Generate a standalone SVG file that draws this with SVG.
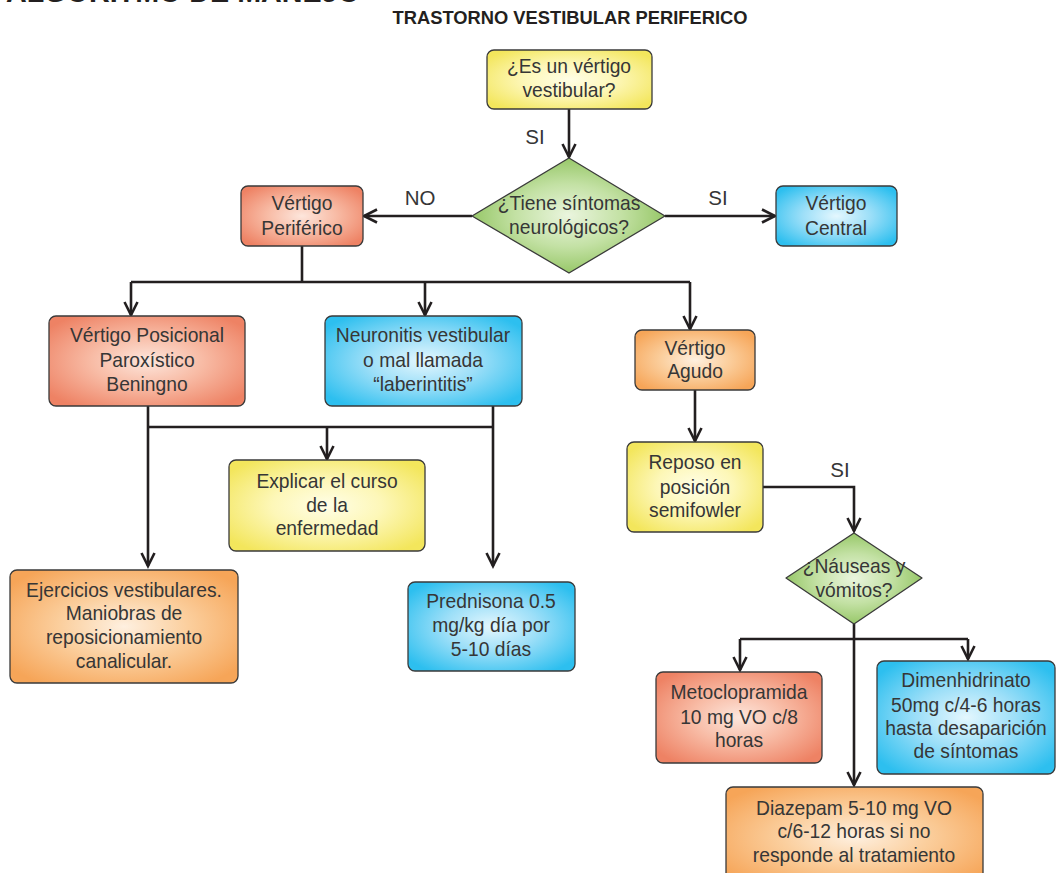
<svg xmlns="http://www.w3.org/2000/svg" width="1056" height="873" viewBox="0 0 1056 873">
  <style>
    .box { stroke: #3a3a3a; stroke-width: 1.3; }
    .t { font-family: "Liberation Sans", Arial, sans-serif; font-size: 20.5px; fill: #363636; text-anchor: middle; }
    .lbl { font-family: "Liberation Sans", Arial, sans-serif; font-size: 20.5px; fill: #363636; text-anchor: middle; }
    .c { fill: none; stroke: #231f20; stroke-width: 2.6; }
    .title { font-family: "Liberation Sans", Arial, sans-serif; font-weight: bold; fill: #231f20; }
  </style>
  <defs>
    <radialGradient id="gYellow" r="0.62">
      <stop offset="0" stop-color="#fffee6"/>
      <stop offset="0.45" stop-color="#fdf7b8"/>
      <stop offset="1" stop-color="#f3e65c"/>
    </radialGradient>
    <radialGradient id="gSalmon" r="0.62">
      <stop offset="0" stop-color="#fde6dc"/>
      <stop offset="0.45" stop-color="#f8bca6"/>
      <stop offset="1" stop-color="#ee8264"/>
    </radialGradient>
    <radialGradient id="gBlue" r="0.62">
      <stop offset="0" stop-color="#e4f7fe"/>
      <stop offset="0.45" stop-color="#9ddff8"/>
      <stop offset="1" stop-color="#2dbfef"/>
    </radialGradient>
    <radialGradient id="gOrange" r="0.62">
      <stop offset="0" stop-color="#fef0e0"/>
      <stop offset="0.45" stop-color="#fbcf9e"/>
      <stop offset="1" stop-color="#f6a558"/>
    </radialGradient>
    <radialGradient id="gGreen" r="0.55">
      <stop offset="0" stop-color="#eaf5de"/>
      <stop offset="0.5" stop-color="#c3e1a4"/>
      <stop offset="1" stop-color="#8ec25c"/>
    </radialGradient>
    <marker id="arr" markerUnits="userSpaceOnUse" orient="auto" refX="0" refY="0" overflow="visible">
      <path d="M-13,-6.5 L0,0 L-13,6.5" fill="none" stroke="#231f20" stroke-width="2.6"/>
    </marker>
  </defs>

  <rect width="1056" height="873" fill="#ffffff"/>

  <!-- headings (the upper one runs off the top edge of the sheet) -->
  <text class="title" x="6" y="1.5" font-size="29" textLength="354" lengthAdjust="spacingAndGlyphs">ALGORITMO DE MANEJO</text>
  <text class="title" x="570" y="24" font-size="18.5" text-anchor="middle" textLength="355" lengthAdjust="spacingAndGlyphs">TRASTORNO VESTIBULAR PERIFERICO</text>

  <!-- connectors -->
  <g id="connectors">
    <path class="c" d="M569,109 V157" marker-end="url(#arr)"/>
    <path class="c" d="M472,216 H364" marker-end="url(#arr)"/>
    <path class="c" d="M665,216 H775" marker-end="url(#arr)"/>
    <path class="c" d="M302,246 V282"/>
    <path class="c" d="M131,282 H690"/>
    <path class="c" d="M131,282 V315" marker-end="url(#arr)"/>
    <path class="c" d="M425,282 V315" marker-end="url(#arr)"/>
    <path class="c" d="M690,282 V329" marker-end="url(#arr)"/>
    <path class="c" d="M148,406 V566" marker-end="url(#arr)"/>
    <path class="c" d="M493,406 V566" marker-end="url(#arr)"/>
    <path class="c" d="M148,427 H493"/>
    <path class="c" d="M327,427 V459" marker-end="url(#arr)"/>
    <path class="c" d="M695,390 V441" marker-end="url(#arr)"/>
    <path class="c" d="M763,487 H854 V531" marker-end="url(#arr)"/>
    <path class="c" d="M854,624 V785" marker-end="url(#arr)"/>
    <path class="c" d="M740,639 H968"/>
    <path class="c" d="M740,639 V670" marker-end="url(#arr)"/>
    <path class="c" d="M968,639 V659" marker-end="url(#arr)"/>
    <text class="lbl" x="535" y="144">SI</text>
    <text class="lbl" x="420" y="205">NO</text>
    <text class="lbl" x="718" y="205">SI</text>
    <text class="lbl" x="840" y="477">SI</text>
  </g>

  <g id="n-vestibular">
    <rect class="box" x="487" y="50" width="165" height="59" rx="7" fill="url(#gYellow)"/>
    <text class="t" transform="translate(569 0) scale(0.94 1)"><tspan x="0" y="73">¿Es un vértigo</tspan><tspan x="0" y="97">vestibular?</tspan></text>
  </g>

  <g id="n-neuro">
    <polygon class="box" points="569,158 665,216 569,273 472,216" fill="url(#gGreen)" stroke-linejoin="round"/>
    <text class="t" transform="translate(569 0) scale(0.94 1)"><tspan x="0" y="210">¿Tiene síntomas</tspan><tspan x="0" y="234">neurológicos?</tspan></text>
  </g>

  <g id="n-periferico">
    <rect class="box" x="241" y="186" width="122" height="60" rx="7" fill="url(#gSalmon)"/>
    <text class="t" transform="translate(302 0) scale(0.94 1)"><tspan x="0" y="210">Vértigo</tspan><tspan x="0" y="235">Periférico</tspan></text>
  </g>

  <g id="n-central">
    <rect class="box" x="776" y="186" width="121" height="60" rx="7" fill="url(#gBlue)"/>
    <text class="t" transform="translate(836 0) scale(0.94 1)"><tspan x="0" y="210">Vértigo</tspan><tspan x="0" y="235">Central</tspan></text>
  </g>

  <g id="n-vppb">
    <rect class="box" x="49" y="316" width="196" height="90" rx="7" fill="url(#gSalmon)"/>
    <text class="t" transform="translate(147 0) scale(0.94 1)"><tspan x="0" y="342">Vértigo Posicional</tspan><tspan x="0" y="367">Paroxístico</tspan><tspan x="0" y="391">Beningno</tspan></text>
  </g>

  <g id="n-neuronitis">
    <rect class="box" x="325" y="316" width="197" height="90" rx="7" fill="url(#gBlue)"/>
    <text class="t" transform="translate(423 0) scale(0.94 1)"><tspan x="0" y="342">Neuronitis vestibular</tspan><tspan x="0" y="367">o mal llamada</tspan><tspan x="0" y="391">“laberintitis”</tspan></text>
  </g>

  <g id="n-agudo">
    <rect class="box" x="635" y="330" width="120" height="60" rx="7" fill="url(#gOrange)"/>
    <text class="t" transform="translate(695 0) scale(0.94 1)"><tspan x="0" y="355">Vértigo</tspan><tspan x="0" y="378">Agudo</tspan></text>
  </g>

  <g id="n-reposo">
    <rect class="box" x="627" y="442" width="136" height="90" rx="7" fill="url(#gYellow)"/>
    <text class="t" transform="translate(695 0) scale(0.94 1)"><tspan x="0" y="469">Reposo en</tspan><tspan x="0" y="494">posición</tspan><tspan x="0" y="517">semifowler</tspan></text>
  </g>

  <g id="n-explicar">
    <rect class="box" x="229" y="460" width="196" height="91" rx="7" fill="url(#gYellow)"/>
    <text class="t" transform="translate(327 0) scale(0.94 1)"><tspan x="0" y="488">Explicar el curso</tspan><tspan x="0" y="512">de la</tspan><tspan x="0" y="535">enfermedad</tspan></text>
  </g>

  <g id="n-ejercicios">
    <rect class="box" x="10" y="570" width="228" height="113" rx="7" fill="url(#gOrange)"/>
    <text class="t" transform="translate(124 0) scale(0.94 1)"><tspan x="0" y="597">Ejercicios vestibulares.</tspan><tspan x="0" y="620">Maniobras de</tspan><tspan x="0" y="644">reposicionamiento</tspan><tspan x="0" y="668">canalicular.</tspan></text>
  </g>

  <g id="n-prednisona">
    <rect class="box" x="408" y="582" width="167" height="89" rx="7" fill="url(#gBlue)"/>
    <text class="t" transform="translate(491 0) scale(0.94 1)"><tspan x="0" y="608">Prednisona 0.5</tspan><tspan x="0" y="632">mg/kg día por</tspan><tspan x="0" y="656">5-10 días</tspan></text>
  </g>

  <g id="n-nauseas">
    <polygon class="box" points="854,533 922,578 854,624 786,578" fill="url(#gGreen)" stroke-linejoin="round"/>
    <text class="t" transform="translate(854 0) scale(0.94 1)"><tspan x="0" y="573">¿Náuseas y</tspan><tspan x="0" y="597">vómitos?</tspan></text>
  </g>

  <g id="n-metoclopramida">
    <rect class="box" x="656" y="672" width="166" height="91" rx="7" fill="url(#gSalmon)"/>
    <text class="t" transform="translate(739 0) scale(0.94 1)"><tspan x="0" y="699">Metoclopramida</tspan><tspan x="0" y="724">10 mg VO c/8</tspan><tspan x="0" y="747">horas</tspan></text>
  </g>

  <g id="n-dimenhidrinato">
    <rect class="box" x="877" y="661" width="178" height="113" rx="7" fill="url(#gBlue)"/>
    <text class="t" transform="translate(966 0) scale(0.94 1)"><tspan x="0" y="687">Dimenhidrinato</tspan><tspan x="0" y="712">50mg c/4-6 horas</tspan><tspan x="0" y="735">hasta desaparición</tspan><tspan x="0" y="758">de síntomas</tspan></text>
  </g>

  <g id="n-diazepam">
    <rect class="box" x="726" y="787" width="257" height="100" rx="7" fill="url(#gOrange)"/>
    <text class="t" transform="translate(854 0) scale(0.94 1)"><tspan x="0" y="815">Diazepam 5-10 mg VO</tspan><tspan x="0" y="838">c/6-12 horas si no</tspan><tspan x="0" y="862">responde al tratamiento</tspan></text>
  </g>
</svg>
